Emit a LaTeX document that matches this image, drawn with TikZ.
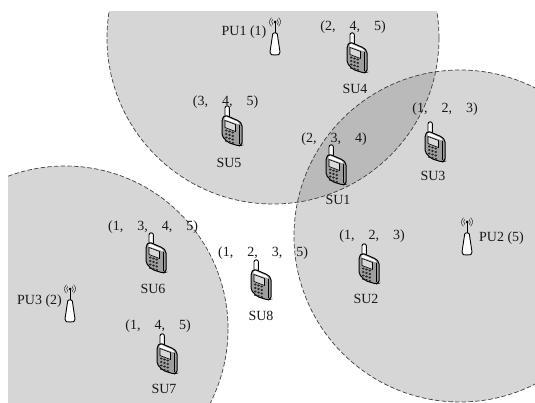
\documentclass[tikz,border=0pt]{standalone}
\usepackage{fontspec}
\setmainfont{Liberation Serif}
\definecolor{cell}{gray}{0.84}
\definecolor{cellb}{gray}{0.73}
\definecolor{phonebody}{gray}{0.62}
\definecolor{screenc}{gray}{0.85}
\newcommand{\gp}{\hspace{14pt}}
\tikzset{
  x=1pt,y=-1pt,
  cellline/.style={draw=black!75,dash pattern=on 4.5pt off 2.2pt,line width=0.7pt},
  lab/.style={font=\fontsize{14}{14}\selectfont,inner sep=0pt,text=black!90},
  phone/.pic={
    \draw[line width=0.9pt,fill=white] (-7,-11) -- (-7,-19) arc (180:360:2.2) -- (-2.6,-9) -- cycle;
    \draw[line width=1pt,fill=phonebody,rounded corners=2pt] (-10,-8) -- (-7,-12) -- (7,-6) -- (10,-3) -- (10,18) -- (7,19) -- (-4,15.5) -- (-10,9) -- cycle;
    \fill[white,rounded corners=1pt] (-8,-7.5) -- (-6.5,-10.5) -- (6,-5) -- (7.5,-2.5) -- (-6,-7) -- cycle;
    \draw[line width=0.6pt,fill=screenc] (-7,-6.5) -- (3.5,-2.5) -- (3.5,4.5) -- (-7,0.5) -- cycle;
    \foreach \r in {0,1,2,3}{\foreach \c in {0,1,2}{
      \fill[black!85] ({-5.8+3.3*\c},{3.5+3.5*\r+1.0*\c}) circle[x radius=1.4,y radius=1.1];}}
    \draw[line width=0.7pt] (7.5,-2) -- (7.5,17);
  },
  antenna/.pic={
    \draw[line width=0.9pt,fill=white] (-5,19) .. controls (-5.5,22) and (-3,22) .. (0,22) .. controls (3,22) and (5.5,22) .. (5,19) -- (2.3,1) .. controls (2,-0.5) and (-2,-0.5) .. (-2.3,1) -- cycle;
    \draw[line width=0.9pt] (0,0) -- (0,-11);
    \fill (0,-11) circle[radius=1.5];
    \draw[line width=0.4pt] (0,-11) ++(-50:3.4) arc[start angle=-50,end angle=50,radius=3.4];
    \draw[line width=0.4pt] (0,-11) ++(130:3.4) arc[start angle=130,end angle=230,radius=3.4];
    \draw[line width=0.4pt] (0,-11) ++(-50:5.6) arc[start angle=-50,end angle=50,radius=5.6];
    \draw[line width=0.4pt] (0,-11) ++(130:5.6) arc[start angle=130,end angle=230,radius=5.6];
  }
}
\begin{document}
\begin{tikzpicture}
\useasboundingbox (0,0) rectangle (535,403);
\begin{scope}
  \clip (8,11.5) rectangle (535,403);
  \fill[cell] (273,38) circle[radius=166];
  \fill[cell] (460,236) circle[radius=166];
  \fill[cell] (65,329) circle[radius=163];
  \begin{scope}
    \clip (273,38) circle[radius=166];
    \fill[cellb] (460,236) circle[radius=166];
  \end{scope}
  \draw[cellline] (273,38) circle[radius=166];
  \draw[cellline] (460,236) circle[radius=166];
  \draw[cellline] (65,329) circle[radius=163];
\end{scope}
\pic at (275,33) {antenna};
\pic at (467,233) {antenna};
\pic at (70,300) {antenna};
\pic at (357,54) {phone};
\pic at (435,143) {phone};
\pic at (336,166) {phone};
\pic at (232,127) {phone};
\pic at (369,265) {phone};
\pic at (156,254) {phone};
\pic at (261,281) {phone};
\pic at (167,355) {phone};
\node[lab] (pu1) at (244,32) {PU1 (1)};
\node[lab] (pu2) at (501.5,238) {PU2 (5)};
\node[lab] (pu3) at (39.5,301) {PU3 (2)};
\node[lab] (su4) at (355,89) {SU4};
\node[lab] (su3) at (433,176) {SU3};
\node[lab] (su1) at (338,200) {SU1};
\node[lab] (su5) at (229,163) {SU5};
\node[lab] (su2) at (366,299) {SU2};
\node[lab] (su6) at (153,289) {SU6};
\node[lab] (su8) at (261,316) {SU8};
\node[lab] (su7) at (164,389) {SU7};
\node[lab] (s4) at (353,27) {(2,\gp 4,\gp 5)};
\node[lab] (s3) at (445,109) {(1,\gp 2,\gp 3)};
\node[lab] (s1) at (334,139) {(2,\gp 3,\gp 4)};
\node[lab] (s5) at (225.5,102) {(3,\gp 4,\gp 5)};
\node[lab] (s2) at (372,236) {(1,\gp 2,\gp 3)};
\node[lab] (s6) at (153,227) {(1,\gp 3,\gp 4,\gp 5)};
\node[lab] (s8) at (263,253) {(1,\gp 2,\gp 3,\gp 5)};
\node[lab] (s7) at (158,326) {(1,\gp 4,\gp 5)};
\end{tikzpicture}
\end{document}
